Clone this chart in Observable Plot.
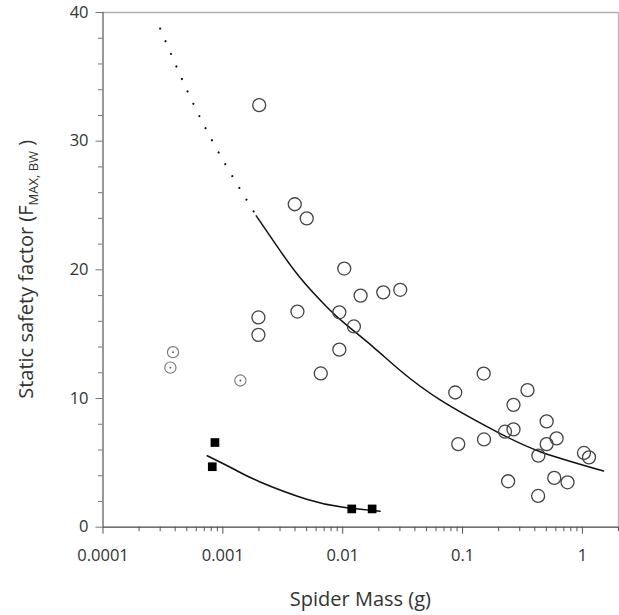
<!DOCTYPE html>
<html>
<head>
<meta charset="utf-8">
<script src="https://cdn.jsdelivr.net/npm/d3@7"></script>
<script src="https://cdn.jsdelivr.net/npm/@observablehq/plot@0.6"></script>
<style>
  html, body { margin: 0; padding: 0; background: #fff; }
  #chart svg { display: block; }
</style>
</head>
<body>
<div id="chart"></div>
<script>
// ---- Data ----
// Open circles: spider mass (g) and static safety factor
const openMass = [0.00201, 0.00398, 0.00501, 0.0103, 0.0141, 0.0218, 0.0302, 0.00198, 0.00198, 0.00419,
                  0.00937, 0.0124, 0.00937, 0.00656,
                  0.150, 0.0869, 0.348, 0.266, 0.503, 0.226, 0.266, 0.092, 0.151, 0.609, 0.503, 0.429,
                  1.03, 1.135, 0.240, 0.582, 0.751, 0.427];
const openSF   = [32.8, 25.1, 24.0, 20.1, 18.0, 18.25, 18.45, 16.3, 14.95, 16.76,
                  16.7, 15.6, 13.8, 11.95,
                  11.94, 10.47, 10.65, 9.51, 8.22, 7.42, 7.60, 6.46, 6.82, 6.90, 6.46, 5.56,
                  5.77, 5.43, 3.57, 3.83, 3.49, 2.43];
// Circles with a centre dot
const dotMass = [0.000384, 0.000365, 0.00140];
const dotSF   = [13.6, 12.4, 11.4];
// Filled squares
const sqMass = [0.000859, 0.000816, 0.0119, 0.0176];
const sqSF   = [6.58, 4.70, 1.42, 1.42];
// Fitted curve for open circles: dotted extrapolation and solid part
const fitDotMass = [0.0003, 0.0005, 0.0009, 0.0019];
const fitDotSF   = [38.75, 34.0, 29.3, 24.2];
const fitMass = [0.0019, 0.0028, 0.0044, 0.0074, 0.0108, 0.018, 0.03, 0.065, 0.19, 0.45, 1.5];
const fitSF   = [24.2, 21.9, 19.4, 17.1, 15.7, 14.0, 12.2, 9.9, 7.45, 5.85, 4.37];
// Fitted curve for squares
const sqFitMass = [0.00074, 0.00123, 0.002, 0.005, 0.0101, 0.0205];
const sqFitSF   = [5.55, 4.52, 3.56, 2.18, 1.55, 1.24];
// Axis ticks and labels
const xTickValues = [0.0001, 0.001, 0.01, 0.1, 1];
const xTickLabels = ["0.0001", "0.001", "0.01", "0.1", "1"];
const yTickValues = [0, 10, 20, 30, 40];
const yTickLabels = ["0", "10", "20", "30", "40"];
const xTitle = "Spider Mass (g)";
const yTitleMain = "Static safety factor (F";
const yTitleSub = "MAX, BW";
const yTitleEnd = " )";

// ---- Build tables ----
const zip = (xs, ys) => xs.map((x, i) => ({x, y: ys[i]}));
const openPts = zip(openMass, openSF);
const dotPts = zip(dotMass, dotSF);
const sqPts = zip(sqMass, sqSF);
const fitDot = zip(fitDotMass, fitDotSF);
const fitSolid = zip(fitMass, fitSF);
const sqFit = zip(sqFitMass, sqFitSF);

const xMinor = [];
for (const dec of [0.0001, 0.001, 0.01, 0.1, 1]) {
  for (let k = 2; k <= 9; k++) { const v = dec * k; if (v <= 2) xMinor.push(v); }
}
const yMinor = d3.range(0, 41, 2).filter(v => v % 10 !== 0);

const axisColor = "#555";
const plot = Plot.plot({
  width: 619,
  height: 615,
  marginLeft: 102.5,
  marginRight: 1,
  marginTop: 12,
  marginBottom: 88.3,
  style: {fontFamily: "'Open Sans', sans-serif", fontSize: "16.5px", color: "#333", background: "#fff"},
  x: {type: "log", domain: [0.0001, 2], label: null},
  y: {domain: [0, 40], label: null},
  marks: [
    // frame
    Plot.ruleY([40], {stroke: "#b0b0b0", strokeWidth: 1.6}),
    Plot.ruleX([2], {stroke: "#b8b8b8", strokeWidth: 1.4}),
    Plot.ruleX([0.0001], {stroke: axisColor, strokeWidth: 1.2}),
    Plot.ruleY([0], {stroke: "#444", strokeWidth: 1.3}),
    // axes
    Plot.axisX(xMinor, {tickSize: 4.5, stroke: axisColor, tickFormat: () => "", label: null}),
    Plot.axisX(xTickValues, {tickSize: 7, tickPadding: 15.5, stroke: axisColor, fontSize: 16.5,
      tickFormat: d => xTickLabels[xTickValues.indexOf(d)], label: null}),
    Plot.axisY(yMinor, {tickSize: 4.5, stroke: "#777", tickFormat: () => "", label: null}),
    Plot.axisY(yTickValues, {tickSize: 7, tickPadding: 7.5, stroke: "#777", fontSize: 16.5,
      tickFormat: d => yTickLabels[yTickValues.indexOf(d)], label: null}),
    // fitted curves
    Plot.line(fitDot, {x: "x", y: "y", curve: "natural", stroke: "#111", strokeWidth: 2.2,
      strokeDasharray: "0.01 13.7", strokeLinecap: "round"}),
    Plot.line(fitSolid, {x: "x", y: "y", curve: "natural", stroke: "#111", strokeWidth: 1.5}),
    Plot.line(sqFit, {x: "x", y: "y", curve: "natural", stroke: "#111", strokeWidth: 1.6}),
    // points
    Plot.dot(openPts, {x: "x", y: "y", r: 6.5, stroke: "#444", strokeWidth: 1.3, fill: "none"}),
    Plot.dot(dotPts, {x: "x", y: "y", r: 5.6, stroke: "#777", strokeWidth: 1.1, fill: "none"}),
    Plot.dot(dotPts, {x: "x", y: "y", r: 0.9, fill: "#555", stroke: "none"}),
    Plot.dot(sqPts, {x: "x", y: "y", symbol: "square", r: 4.9, fill: "#000", stroke: "none"})
  ]
});

const svg = d3.select(plot);
svg.append("text")
  .attr("x", 360.4).attr("y", 606)
  .attr("text-anchor", "middle")
  .attr("font-size", 20).attr("fill", "#333")
  .text(xTitle);
const yt = svg.append("text")
  .attr("transform", "translate(33,269.3) rotate(-90)")
  .attr("text-anchor", "middle")
  .attr("font-size", 20).attr("fill", "#333");
yt.append("tspan").text(yTitleMain);
yt.append("tspan").attr("font-size", 13).attr("dy", 4.5).text(yTitleSub);
yt.append("tspan").attr("dy", -4.5).text(yTitleEnd);

document.getElementById("chart").appendChild(plot);
</script>
</body>
</html>
